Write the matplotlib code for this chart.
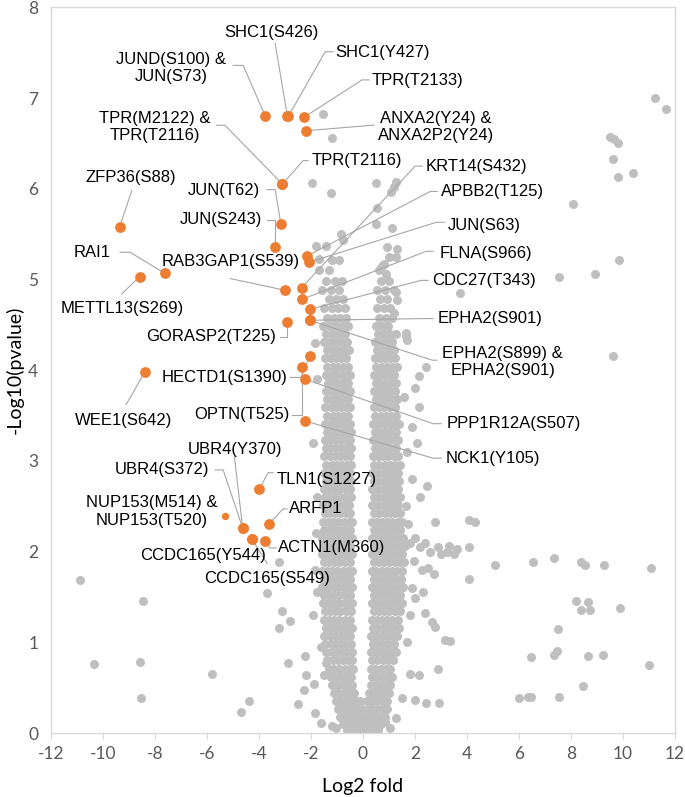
import numpy as np
import matplotlib.pyplot as plt

# ---- highlighted phosphosites (orange) ----
hl_names = ['JUND(S100) &\nJUN(S73)', 'SHC1(S426)', 'SHC1(Y427)', 'TPR(T2133)',
            'ANXA2(Y24) &\nANXA2P2(Y24)', 'TPR(M2122) &\nTPR(T2116)', 'TPR(T2116)',
            'ZFP36(S88)', 'JUN(T62)', 'JUN(S243)', 'KRT14(S432)', 'APBB2(T125)',
            'JUN(S63)', 'RAI1', 'RAB3GAP1(S539)', 'METTL13(S269)', 'FLNA(S966)',
            'CDC27(T343)', 'EPHA2(S901)', 'EPHA2(S899) &\nEPHA2(S901)', 'GORASP2(T225)',
            'HECTD1(S1390)', 'OPTN(T525)', 'PPP1R12A(S507)', 'WEE1(S642)', 'NCK1(Y105)',
            'TLN1(S1227)', 'NUP153(M514) &\nNUP153(T520)', 'UBR4(Y370)', 'UBR4(S372)',
            'ARFP1', 'CCDC165(Y544)', 'ACTN1(M360)', 'CCDC165(S549)']
hl_x = [-3.75, -2.9, -2.86, -2.25, -2.17, -3.09, -3.09, -9.35, -3.15, -3.37, -2.35, -2.13,
        -2.07, -7.62, -2.98, -8.58, -2.35, -2.04, -2.04, -2.04, -2.93, -2.04, -2.35, -2.22,
        -8.38, -2.22, -3.98, -5.28, -4.62, -4.62, -3.62, -4.27, -3.76, -4.27]
hl_y = [6.80, 6.80, 6.80, 6.79, 6.64, 6.05, 6.05, 5.58, 5.61, 5.36, 4.91, 5.26,
        5.19, 5.07, 4.88, 5.03, 4.78, 4.67, 4.55, 4.55, 4.53, 4.16, 4.03, 3.90,
        3.98, 3.44, 2.69, 2.39, 2.26, 2.26, 2.30, 2.14, 2.12, 2.14]

# ---- all other sites (grey), dense core read row by row: (y, x values) ----
bulk_rows = [
    (0.03, [-0.62, -0.46, -0.3, -0.14, 0.02, 0.16, 0.3, 0.44, 0.58]),
    (0.10, [-0.78, -0.58, -0.4, -0.24, -0.08, 0.08, 0.24, 0.38, 0.54, 0.7]),
    (0.18, [-0.86, -0.68, -0.5, -0.32, -0.14, 0.04, 0.2, 0.36, 0.52, 0.7, 0.86]),
    (0.26, [-0.96, -0.76, -0.56, -0.38, -0.2, -0.02, 0.18, 0.36, 0.56, 0.76, 0.94]),
    (0.35, [-1.04, -0.84, -0.64, -0.44, -0.26, -0.12, 0.16, 0.34, 0.54, 0.74, 0.94]),
    (0.44, [-1.12, -0.9, -0.7, -0.5, -0.34, 0.24, 0.42, 0.62, 0.82, 1.0]),
    (0.53, [-1.18, -0.98, -0.78, -0.58, -0.4, 0.3, 0.5, 0.7, 0.9, 1.06]),
    (0.62, [-1.24, -1.04, -0.84, -0.64, -0.44, 0.34, 0.54, 0.74, 0.94, 1.12]),
    (0.71, [-1.3, -1.1, -0.9, -0.7, -0.5, -0.37, 0.3, 0.48, 0.68, 0.88, 1.06]),
    (0.80, [-1.36, -1.16, -0.96, -0.76, -0.56, -0.4, 0.36, 0.56, 0.76, 0.96, 1.16]),
    (0.89, [-1.4, -1.2, -1.0, -0.8, -0.6, -0.42, 0.32, 0.5, 0.7, 0.9, 1.1, 1.26]),
    (0.98, [-1.44, -1.24, -1.04, -0.84, -0.64, -0.46, 0.38, 0.58, 0.78, 0.98, 1.18]),
    (1.07, [-1.48, -1.28, -1.08, -0.88, -0.68, -0.48, 0.33, 0.52, 0.72, 0.92, 1.12, 1.3]),
    (1.16, [-1.42, -1.22, -1.02, -0.82, -0.62, -0.42, 0.4, 0.6, 0.8, 1.0, 1.2, 1.38]),
    (1.25, [-1.5, -1.3, -1.1, -0.9, -0.7, -0.5, 0.34, 0.54, 0.74, 0.94, 1.14, 1.34]),
    (1.34, [-1.46, -1.26, -1.06, -0.86, -0.66, -0.44, 0.42, 0.62, 0.82, 1.02, 1.22, 1.42]),
    (1.43, [-1.54, -1.34, -1.14, -0.94, -0.74, -0.54, -0.4, 0.34, 0.52, 0.72, 0.92, 1.12, 1.32, 1.5]),
    (1.52, [-1.5, -1.3, -1.1, -0.9, -0.7, -0.48, 0.42, 0.62, 0.82, 1.02, 1.22, 1.44]),
    (1.61, [-1.56, -1.36, -1.16, -0.96, -0.76, -0.56, -0.4, 0.35, 0.54, 0.74, 0.94, 1.14, 1.34, 1.54]),
    (1.70, [-1.5, -1.28, -1.08, -0.88, -0.68, -0.48, 0.44, 0.64, 0.84, 1.04, 1.24, 1.46]),
    (1.79, [-1.58, -1.38, -1.18, -0.98, -0.78, -0.58, -0.4, 0.34, 0.52, 0.72, 0.92, 1.12, 1.32, 1.52]),
    (1.88, [-1.5, -1.3, -1.1, -0.9, -0.7, -0.5, 0.42, 0.62, 0.82, 1.02, 1.22, 1.42, 1.6]),
    (1.97, [-1.56, -1.36, -1.16, -0.96, -0.76, -0.56, -0.4, 0.34, 0.54, 0.74, 0.94, 1.14, 1.34, 1.52]),
    (2.06, [-1.5, -1.3, -1.1, -0.9, -0.7, -0.5, 0.44, 0.64, 0.84, 1.04, 1.24, 1.44, 1.62]),
    (2.15, [-1.56, -1.36, -1.16, -0.96, -0.76, -0.56, -0.42, 0.36, 0.54, 0.74, 0.94, 1.14, 1.34, 1.54]),
    (2.24, [-1.48, -1.28, -1.08, -0.88, -0.68, -0.48, 0.44, 0.64, 0.84, 1.04, 1.24, 1.44]),
    (2.33, [-1.54, -1.34, -1.14, -0.94, -0.74, -0.54, -0.4, 0.36, 0.54, 0.74, 0.94, 1.14, 1.34, 1.52]),
    (2.42, [-1.46, -1.26, -1.06, -0.86, -0.66, -0.48, 0.44, 0.64, 0.84, 1.04, 1.24, 1.42]),
    (2.51, [-1.52, -1.32, -1.12, -0.92, -0.72, -0.52, 0.36, 0.56, 0.76, 0.96, 1.16, 1.36]),
    (2.60, [-1.46, -1.26, -1.06, -0.86, -0.66, -0.46, 0.44, 0.64, 0.84, 1.04, 1.24, 1.44]),
    (2.69, [-1.5, -1.3, -1.1, -0.9, -0.7, -0.5, 0.36, 0.56, 0.76, 0.96, 1.16, 1.36]),
    (2.78, [-1.42, -1.22, -1.02, -0.82, -0.62, -0.44, 0.44, 0.64, 0.84, 1.04, 1.24, 1.4]),
    (2.87, [-1.48, -1.28, -1.08, -0.88, -0.68, -0.5, 0.36, 0.56, 0.76, 0.96, 1.16, 1.34]),
    (2.96, [-1.4, -1.2, -1.0, -0.8, -0.6, -0.44, 0.44, 0.64, 0.84, 1.04, 1.24, 1.42]),
    (3.05, [-1.48, -1.28, -1.08, -0.88, -0.68, -0.5, 0.38, 0.58, 0.78, 0.98, 1.18, 1.36]),
    (3.14, [-1.42, -1.22, -1.02, -0.82, -0.62, -0.44, 0.46, 0.66, 0.86, 1.06, 1.26]),
    (3.23, [-1.46, -1.26, -1.06, -0.86, -0.66, -0.5, 0.38, 0.58, 0.78, 0.98, 1.18, 1.36]),
    (3.32, [-1.38, -1.18, -0.98, -0.78, -0.58, -0.44, 0.46, 0.66, 0.86, 1.06, 1.26]),
    (3.41, [-1.44, -1.24, -1.04, -0.84, -0.64, -0.48, 0.4, 0.6, 0.8, 1.0, 1.2, 1.38]),
    (3.50, [-1.36, -1.16, -0.96, -0.76, -0.56, 0.48, 0.68, 0.88, 1.08, 1.28]),
    (3.59, [-1.44, -1.24, -1.04, -0.84, -0.64, -0.48, 0.42, 0.62, 0.82, 1.02, 1.22]),
    (3.68, [-1.36, -1.16, -0.96, -0.76, -0.56, 0.5, 0.7, 0.9, 1.1, 1.3]),
    (3.77, [-1.42, -1.22, -1.02, -0.82, -0.62, -0.48, 0.42, 0.62, 0.82, 1.02, 1.22]),
    (3.86, [-1.34, -1.14, -0.94, -0.74, -0.56, 0.5, 0.7, 0.9, 1.1, 1.28]),
    (3.95, [-1.42, -1.22, -1.02, -0.82, -0.62, -0.5, 0.44, 0.64, 0.84, 1.04, 1.2]),
    (4.04, [-1.36, -1.16, -0.96, -0.76, -0.56, 0.52, 0.72, 0.92, 1.12, 1.3]),
    (4.13, [-1.46, -1.24, -1.04, -0.84, -0.64, 0.46, 0.66, 0.86, 1.06, 1.22]),
    (4.22, [-1.38, -1.16, -0.94, -0.72, -0.54, 0.54, 0.76, 0.98, 1.18]),
    (4.31, [-1.5, -1.26, -1.02, -0.8, -0.6, 0.48, 0.7, 0.92, 1.14]),
    (4.40, [-1.4, -1.14, -0.9, -0.68, 0.58, 0.82, 1.06, 1.26]),
    (4.49, [-1.54, -1.28, -1.02, -0.78, -0.58, 0.5, 0.74, 0.98]),
    (4.58, [-1.38, -1.1, -0.86, -0.64, 0.62, 0.88, 1.12]),
    (4.68, [-1.5, -1.2, -0.94, -0.7, 0.54, 0.8, 1.04]),
    (4.78, [-1.32, -1.04, -0.78, 0.66, 0.92]),
    (4.88, [-1.58, -1.22, -0.92, 0.56, 0.86, 1.2]),
    (4.98, [-1.4, -1.08, -0.8, 0.7, 1.0]),
]

# scattered grey sites outside the dense core
scatter_x = [-1.53, -1.2, -1.94, -1.24, 0.49, 1.26, 1.2, 1.07, 0.55, 0.49, 1.13, -0.85, -0.78,
             -1.42, -1.8, 0.94, 1.32, 1.0, 1.26, 0.82, -1.68, -1.17, -0.92, -1.3, -1.68, 0.62,
             0.9, 0.73, 1.26, 1.2, 1.64, 1.7, 2.41, 2.15, 1.66, 2.02, 2.15, 1.9, 2.47, 1.32,
             -1.85, -1.75, -1.9, -1.75, -1.8, -1.85, -1.75, -1.9, -1.6, -1.41, -1.5, -1.87,
             -1.84, -1.62, -1.2, -2.23, -2.17, -2.28, -2.51, -2.86, -3.21, -3.67, -3.12, -3.21,
             -2.79,
             2.78, 4.07, 4.32, 3.63, 4.07, 4.07, 3.23, 3.0, 3.5, 3.3, 2.9, 2.6, 2.4, 2.2, 2.0,
             1.8, 1.95, 2.27, 2.5, 2.75, 1.9, 2.3, 2.02, 2.4, 2.78, 2.65, 3.17, 3.36, 2.89,
             2.41, 2.92, 2.0, 1.28, 1.51, 2.15, 1.83, 1.7, 1.8, 1.65, 1.9, 1.7, 2.1, 1.6, 1.75,
             2.2, 1.05, 0.85, -1.05,
             11.24, 11.66, 9.49, 9.66, 9.81, 9.62, 9.79, 10.39, 8.09, 9.84, 7.55, 8.92, 3.72,
             9.62, 5.09, 6.55, 7.36, 8.38, 8.53, 9.26, 11.06, 8.19, 8.64, 8.38, 8.74, 9.88,
             7.51, 6.47, 7.36, 7.45, 8.66, 9.24, 10.99, 8.47, 6.0, 6.34, 6.47, 7.55,
             -10.88, -8.45, -10.34, -8.58, -8.54, -5.79, -4.39, -4.67]
scatter_y = [6.82, 6.56, 6.06, 5.95, 6.06, 6.07, 6.02, 5.96, 5.79, 5.61, 5.57, 5.5, 5.43,
             5.37, 5.37, 5.36, 5.34, 5.25, 5.25, 5.17, 5.23, 5.21, 5.21, 5.1, 5.1, 5.1,
             5.06, 5.15, 4.86, 4.63, 4.41, 4.33, 4.03, 3.94, 4.38, 3.8, 3.59, 3.37, 2.72, 4.77,
             4.3, 3.9, 3.2, 2.6, 2.2, 1.8, 1.55, 1.3, 0.95, 0.77, 0.64, 0.54,
             0.22, 0.11, 0.08, 0.85, 0.64, 0.47, 0.32, 0.77, 1.88, 1.54, 1.35, 1.16,
             1.23,
             2.33, 2.35, 2.33, 2.03, 2.05, 1.7, 2.0, 1.97, 1.97, 2.06, 2.05, 2.0, 2.1, 2.05, 2.15,
             2.1, 1.9, 1.8, 1.82, 1.75, 1.6, 1.55, 1.49, 1.32, 1.17, 1.22, 1.02, 1.01, 0.71,
             0.33, 0.33, 0.36, 0.16, 0.39, 0.64, 0.65, 1.0, 1.3, 2.5, 2.8, 3.1, 3.2, 3.7, 2.3,
             2.6, 0.05, 0.12, 0.05,
             7.0, 6.88, 6.57, 6.55, 6.5, 6.33, 6.13, 6.17, 5.83, 5.22, 5.03, 5.06, 4.85,
             4.16, 1.85, 1.89, 1.93, 1.89, 1.85, 1.85, 1.82, 1.46, 1.44, 1.36, 1.36, 1.38,
             1.15, 0.84, 0.86, 0.9, 0.85, 0.86, 0.75, 0.52, 0.39, 0.4, 0.4, 0.4,
             1.69, 1.45, 0.76, 0.78, 0.39, 0.65, 0.35, 0.23]

# ---- label layout: text position, alignment, leader waypoints (ends at the dot) ----
label_pos = [(-7.38, 7.33, 'center'), (-3.53, 7.72, 'center'), (-1.07, 7.50, 'left'),
             (0.35, 7.19, 'left'), (2.82, 6.68, 'center'), (-8.01, 6.68, 'center'),
             (-1.96, 6.31, 'left'), (-8.91, 6.12, 'center'), (-3.95, 5.98, 'right'),
             (-3.88, 5.66, 'right'), (2.40, 6.25, 'left'), (3.0, 5.97, 'left'),
             (3.25, 5.59, 'left'), (-10.41, 5.30, 'center'), (-5.08, 5.20, 'center'),
             (-9.26, 4.68, 'center'), (2.95, 5.29, 'left'), (2.65, 4.99, 'left'),
             (2.87, 4.57, 'left'), (5.38, 4.09, 'center'), (-3.33, 4.37, 'right'),
             (-2.90, 3.92, 'right'), (-2.82, 3.51, 'right'), (3.23, 3.41, 'left'),
             (-9.18, 3.45, 'center'), (3.19, 3.03, 'left'), (-3.33, 2.79, 'left'),
             (-8.12, 2.44, 'center'), (-4.90, 3.12, 'center'), (-5.90, 2.90, 'right'),
             (-2.83, 2.47, 'left'), (-6.15, 1.96, 'center'), (-3.25, 2.04, 'left'),
             (-3.69, 1.70, 'center')]
leaders = [[(-4.99, 7.36), (-4.6, 7.36)], [(-3.37, 7.60)], [(-1.14, 7.51), (-1.45, 7.51)],
           [(0.24, 7.20), (-0.03, 7.20)], [(0.43, 6.70), (0.35, 6.70)],
           [(-5.62, 6.70), (-5.30, 6.70)], [(-2.10, 6.31), (-2.30, 6.31)], [(-8.88, 5.98)],
           [(-3.69, 5.99), (-3.37, 5.99)], [(-3.69, 5.66), (-3.37, 5.66)],
           [(2.28, 6.25), (2.01, 6.25)], [(2.86, 5.97), (2.59, 5.97)],
           [(3.13, 5.63), (2.82, 5.63)], [(-9.33, 5.30), (-8.95, 5.30)], [(-5.10, 5.01)],
           [(-9.27, 4.84)], [(2.70, 5.31), (2.43, 5.31)], [(2.51, 4.99), (2.24, 4.99)],
           [(2.70, 4.57)], [(2.85, 4.11), (2.67, 4.11)], [(-3.18, 4.37), (-2.93, 4.37)],
           [(-2.80, 3.92), (-2.37, 3.92)], [(-2.72, 3.51), (-2.35, 3.51)],
           [(3.01, 3.41), (2.70, 3.41)], [(-9.10, 3.62)], [(3.01, 3.03), (2.70, 3.03)],
           [(-3.45, 2.87), (-3.64, 2.87)], [], [(-4.94, 3.05)], [(-5.68, 2.90), (-5.37, 2.90)],
           [(-2.91, 2.47), (-3.07, 2.47)], [], [(-3.33, 2.04), (-3.57, 2.04)],
           [(-3.68, 1.87)]]

grey_x = list(scatter_x)
grey_y = list(scatter_y)
for yy, xs in bulk_rows:
    grey_x += xs
    grey_y += [yy] * len(xs)

plt.rcParams['font.family'] = ['Liberation Sans', 'DejaVu Sans']
plt.rcParams['axes.unicode_minus'] = False

fig = plt.figure(figsize=(6.85, 7.97), dpi=100)
ax = fig.add_axes([0.074, 0.0803, 0.9114, 0.9105])

ax.scatter(grey_x, grey_y, s=42, color='#BFBFBF', linewidths=0, zorder=2)

small = ['NUP153(M514) &\nNUP153(T520)']
for i, name in enumerate(hl_names):
    pts = leaders[i]
    if pts:
        lx = [p[0] for p in pts] + [hl_x[i]]
        ly = [p[1] for p in pts] + [hl_y[i]]
        ax.plot(lx, ly, color='#A6A6A6', lw=0.8, zorder=3)
    ax.scatter(hl_x[i], hl_y[i], s=28 if name in small else 60, color='#ED7D31',
               linewidths=0, zorder=4)
    tx, ty, ha = label_pos[i]
    ax.text(tx, ty, name, ha=ha, va='center', multialignment='center',
            fontsize=12, color='#000000', zorder=5)

ax.set_xlim(-12, 12)
ax.set_ylim(0, 8)
ax.set_xticks(range(-12, 13, 2))
ax.set_yticks(range(0, 9))
for sp in ax.spines.values():
    sp.set_color('#D9D9D9')
    sp.set_linewidth(1.0)
ax.tick_params(axis='x', length=4, color='#D9D9D9', pad=5, labelsize=12.5,
               labelcolor='#595959')
ax.tick_params(axis='y', length=0, pad=9, labelsize=12.5, labelcolor='#595959')
for lab in ax.get_xticklabels() + ax.get_yticklabels():
    lab.set_family('Lato')

ax.set_xlabel('Log2 fold', fontsize=14, family='Lato', labelpad=12)
ax.set_ylabel('-Log10(pvalue)', fontsize=14, family='Lato', labelpad=3)

fig.savefig('out.png', dpi=100)
